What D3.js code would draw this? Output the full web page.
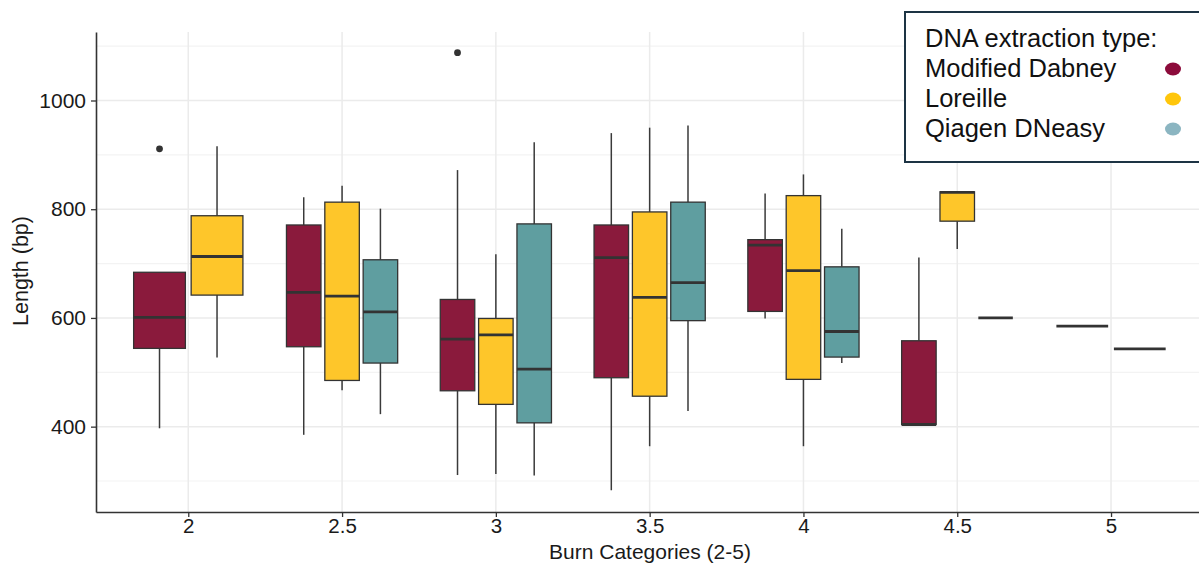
<!DOCTYPE html>
<html>
<head>
<meta charset="utf-8">
<script src="https://cdn.jsdelivr.net/npm/d3@7"></script>
<style>
  html, body { margin: 0; padding: 0; background: #fff; }
  svg { display: block; font-family: "Liberation Sans", Arial, sans-serif; }
</style>
</head>
<body>
<div id="chart"></div>
<script>
// burn categories on the x axis
var categories = [2, 2.5, 3, 3.5, 4, 4.5, 5];
var yTicks = [400, 600, 800, 1000];
var yMinorTicks = [300, 500, 700, 900, 1100];

var seriesNames = ['Modified Dabney', 'Loreille', 'Qiagen DNeasy'];
var boxColors = ['#8a1a3c', '#fec62a', '#5f9ea0'];
var legendColors = ['#8c0b3b', '#ffc60b', '#8bb5c1'];

// [category, lower whisker, q1, median, q3, upper whisker]
var dabney = [
	[2, 397, 544, 601, 684, 684],
	[2.5, 385, 547, 647, 771, 822],
	[3, 311, 466, 561, 634, 872],
	[3.5, 283, 490, 711, 771, 940],
	[4, 599, 612, 734, 744, 829],
	[4.5, 404, 404, 404, 558, 711],
	[5, 585, 585, 585, 585, 585]
];
var loreille = [
	[2, 527, 642, 713, 788, 916],
	[2.5, 467, 485, 640, 813, 843],
	[3, 313, 441, 569, 599, 717],
	[3.5, 364, 456, 638, 795, 950],
	[4, 364, 487, 687, 825, 864],
	[4.5, 727, 778, 831, 832, 832]
];
var qiagen = [
	[2.5, 423, 517, 611, 707, 801],
	[3, 310, 407, 506, 773, 923],
	[3.5, 429, 595, 665, 813, 954],
	[4, 517, 528, 575, 694, 764],
	[4.5, 600, 600, 600, 600, 600],
	[5, 543, 543, 543, 543, 543]
];

// [category, series index, value]
var outliers = [
	[2, 0, 911],
	[3, 0, 1088]
];

var W = 1199, H = 564;
var margin = {L: 96, R: 0, T: 32, B: 52};
var dodgeWidth = 0.374;   // in x units
var boxFrac = 0.9;

var svg = d3.select('#chart').append('svg')
	.attr('width', W)
	.attr('height', H);

var x = d3.scaleLinear()
	.domain([1.70, 5.286])
	.range([margin.L, W - margin.R]);

var y = d3.scaleLinear()
	.domain([243, 1126])
	.range([H - margin.B, margin.T]);

// grid
var grid = svg.append('g');
grid.selectAll('.minor')
	.data(yMinorTicks)
	.enter().append('line')
	.attr('x1', margin.L).attr('x2', W)
	.attr('y1', d => y(d)).attr('y2', d => y(d))
	.attr('stroke', '#f3f3f3').attr('stroke-width', 1.2);
grid.selectAll('.major')
	.data(yTicks)
	.enter().append('line')
	.attr('x1', margin.L).attr('x2', W)
	.attr('y1', d => y(d)).attr('y2', d => y(d))
	.attr('stroke', '#ebebeb').attr('stroke-width', 1.5);
grid.selectAll('.vmajor')
	.data(categories)
	.enter().append('line')
	.attr('x1', d => x(d)).attr('x2', d => x(d))
	.attr('y1', margin.T).attr('y2', H - margin.B)
	.attr('stroke', '#ebebeb').attr('stroke-width', 1.5);

// collect boxes with dodge positions
var allSeries = [dabney, loreille, qiagen];
var boxes = [];
categories.forEach(function(c) {
	var present = [];
	allSeries.forEach(function(s, i) {
		var row = s.find(r => r[0] === c);
		if (row) present.push({series: i, stats: row});
	});
	var n = present.length;
	var slot = dodgeWidth / n;
	present.forEach(function(p, j) {
		p.cx = c - dodgeWidth / 2 + slot * (j + 0.5);
		p.halfW = slot * boxFrac / 2;
		p.cat = c;
		boxes.push(p);
	});
});

var gBox = svg.append('g');
var b = gBox.selectAll('.box')
	.data(boxes)
	.enter().append('g');

// whiskers
b.append('line')
	.attr('x1', d => x(d.cx)).attr('x2', d => x(d.cx))
	.attr('y1', d => y(d.stats[5])).attr('y2', d => y(d.stats[4]))
	.attr('stroke', '#3a3a3a').attr('stroke-width', 1.5);
b.append('line')
	.attr('x1', d => x(d.cx)).attr('x2', d => x(d.cx))
	.attr('y1', d => y(d.stats[2])).attr('y2', d => y(d.stats[1]))
	.attr('stroke', '#3a3a3a').attr('stroke-width', 1.5);

// box
b.filter(d => d.stats[4] > d.stats[2])
	.append('rect')
	.attr('x', d => x(d.cx - d.halfW))
	.attr('width', d => x(d.cx + d.halfW) - x(d.cx - d.halfW))
	.attr('y', d => y(d.stats[4]))
	.attr('height', d => y(d.stats[2]) - y(d.stats[4]))
	.attr('fill', d => boxColors[d.series])
	.attr('stroke', '#333').attr('stroke-width', 1.3);

// median
b.append('line')
	.attr('x1', d => x(d.cx - d.halfW)).attr('x2', d => x(d.cx + d.halfW))
	.attr('y1', d => y(d.stats[3])).attr('y2', d => y(d.stats[3]))
	.attr('stroke', '#333').attr('stroke-width', 2.8);

// outliers
svg.append('g').selectAll('circle')
	.data(outliers)
	.enter().append('circle')
	.attr('cx', function(d) {
		var bx = boxes.find(p => p.cat === d[0] && p.series === d[1]);
		return x(bx.cx);
	})
	.attr('cy', d => y(d[2]))
	.attr('r', 3.4)
	.attr('fill', '#333');

// axes
var xAxis = svg.append('g')
	.attr('transform', 'translate(0,' + (H - margin.B) + ')')
	.call(d3.axisBottom(x).tickValues(categories).tickFormat(d3.format('')).tickSize(5).tickSizeOuter(0));
var yAxis = svg.append('g')
	.attr('transform', 'translate(' + margin.L + ',0)')
	.call(d3.axisLeft(y).tickValues(yTicks).tickFormat(d3.format('d')).tickSize(5).tickSizeOuter(0));

[xAxis, yAxis].forEach(function(a) {
	a.select('.domain').attr('stroke', '#333').attr('stroke-width', 1.6);
	a.selectAll('.tick line').attr('stroke', '#333').attr('stroke-width', 1.3);
	a.selectAll('.tick text')
		.attr('fill', '#1a1a1a')
		.style('font-size', '21px')
		.style('font-family', '"Liberation Sans", Arial, sans-serif');
});
xAxis.selectAll('.tick text').attr('dy', '0.71em').attr('y', 6).style('font-size', '20.5px');
yAxis.selectAll('.tick text').attr('x', -10);

// axis titles
svg.append('text')
	.attr('x', 650)
	.attr('y', 559)
	.attr('text-anchor', 'middle')
	.style('font-size', '21px')
	.attr('fill', '#1a1a1a')
	.text('Burn Categories (2-5)');
svg.append('text')
	.attr('transform', 'translate(28,' + 271 + ') rotate(-90)')
	.attr('text-anchor', 'middle')
	.style('font-size', '21.5px')
	.attr('fill', '#1a1a1a')
	.text('Length (bp)');

// legend
var leg = svg.append('g').attr('transform', 'translate(905,12)');
leg.append('rect')
	.attr('x', 0).attr('y', 0)
	.attr('width', 310).attr('height', 150)
	.attr('fill', '#fff')
	.attr('stroke', '#1d3444').attr('stroke-width', 2);
leg.append('text')
	.attr('x', 20).attr('y', 35)
	.style('font-size', '25.5px')
	.attr('fill', '#111')
	.text('DNA extraction type:');
var items = leg.selectAll('.item')
	.data(seriesNames)
	.enter().append('g')
	.attr('transform', (d, i) => 'translate(0,' + (65 + i * 30) + ')');
items.append('text')
	.attr('x', 20).attr('y', 0)
	.style('font-size', '25.5px')
	.attr('fill', '#111')
	.text(d => d);
items.append('ellipse')
	.attr('cx', 268).attr('cy', -8)
	.attr('rx', 8).attr('ry', 6.5)
	.attr('fill', (d, i) => legendColors[i]);
</script>
</body>
</html>
